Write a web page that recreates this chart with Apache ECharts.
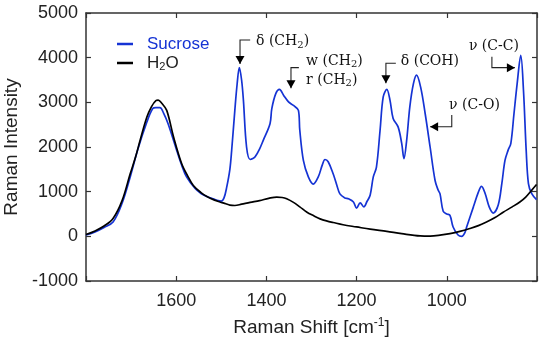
<!DOCTYPE html>
<html><head><meta charset="utf-8">
<script src="https://cdn.jsdelivr.net/npm/echarts@6/dist/echarts.min.js"></script>
<style>html,body{margin:0;padding:0;background:#fff}#c{width:550px;height:350px}</style>
</head><body><div id="c"></div>
<script>
// ---- data ----
const h2oShift = [1800,1780,1760,1740,1720,1702,1690,1680,1665,1655,1645,1640,1632,1621,1606,1588,1575,1562,1545,1532,1515,1503,1490,1481,1470,1455,1436,1415,1395,1377,1365,1355,1340,1326,1310,1295,1281,1265,1252,1230,1200,1170,1133,1100,1059,1037,1015,993,971,949,930,912,893,875,855,838,825,812,801];
const h2oIntensity = [40,120,230,400,800,1400,1780,2150,2670,2900,3040,3050,2980,2820,2230,1630,1360,1140,980,890,810,770,730,700,690,720,760,800,850,880,870,840,760,660,540,460,390,340,310,260,210,160,110,60,10,5,25,60,110,175,240,320,420,540,660,770,880,1030,1160];
const sucroseShift = [1800,1780,1760,1740,1720,1702,1685,1665,1652,1645,1636,1628,1618,1599,1588,1577,1558,1545,1532,1518,1507,1500,1494,1488,1481,1477,1470,1465,1460,1455,1451,1444,1436,1430,1425,1415,1407,1392,1388,1379,1371,1362,1351,1340,1329,1326,1318,1307,1296,1285,1276,1270,1263,1252,1244,1237,1226,1218,1207,1200,1192,1184,1177,1170,1163,1156,1148,1141,1133,1126,1119,1108,1100,1095,1089,1082,1074,1067,1058,1048,1037,1026,1019,1015,1008,1000,993,986,975,967,960,956,941,930,923,915,906,897,886,878,871,864,858,851,844,836,830,824,819,812,801];
const sucroseIntensity = [30,100,200,320,740,1330,1950,2560,2860,2880,2880,2760,2520,1930,1600,1330,1070,960,890,840,800,790,860,1100,1500,1926,2820,3400,3780,3500,3050,2000,1720,1740,1780,1960,2150,2520,2860,3200,3290,3160,3010,2930,2820,2380,1700,1330,1170,1330,1600,1720,1670,1400,1150,950,860,840,770,630,750,660,780,920,1330,1550,2370,3120,3290,3050,2640,2450,2080,1740,2150,2900,3420,3610,3340,2750,2000,1250,1030,950,560,500,470,210,30,0,80,210,660,990,1120,960,660,520,700,1180,1700,1930,2080,2750,3420,4050,3270,1930,1180,960,820];
const xTickLabels = [1600,1400,1200,1000];
const seriesNames = ['Sucrose','H2O'];

// annotation anchors in data units (shift, intensity)
const annotations = [
  {lines:[{t:'{a|δ (CH}{s|2}{a|)}', at:[1423,4358]}], path:[[1436,4396],[1458.5,4396],[1458.5,3858]], dir:'down'},
  {lines:[{t:'{a|w (CH}{s|2}{a|)}', at:[1312,3925]},{t:'{a|r (CH}{s|2}{a|)}', at:[1312,3500]}], path:[[1328,3776],[1345.5,3776],[1345.5,3314]], dir:'down'},
  {lines:[{t:'{a|δ (COH)}', at:[1102,3910]}], path:[[1113,3874],[1135,3874],[1135,3426]], dir:'down'},
  {lines:[{t:'{a|ν (C-O)}', at:[995,2940]}], path:[[989,2717],[989,2455],[1037,2455]], dir:'left'},
  {lines:[{t:'{a|ν (C-C)}', at:[951,4246]}], path:[[900,4022],[900,3776],[849,3776]], dir:'right'}
];

const BLUE = '#1533d4';
const AX = '#333333';
const TXT = '#222222';
const FONT = '"Liberation Sans", Arial, sans-serif';
const SERIF = '"DejaVu Serif", "Liberation Serif", serif';

const chart = echarts.init(document.getElementById('c'), null, {renderer:'canvas'});
const axisLine = {show:true, onZero:false, lineStyle:{color:AX, width:1.5}};
const axisTick = {show:true, inside:true, length:5, lineStyle:{color:AX, width:1.2}};

chart.setOption({
  animation:false,
  backgroundColor:'#ffffff',
  grid:{left:86, right:13, top:13, bottom:69, containLabel:false, outerBoundsMode:'none'},
  legend:{
    orient:'vertical', left:112, top:30, itemGap:1,
    icon:'rect', itemWidth:16, itemHeight:2.5,
    data:[
      {name:'Sucrose', textStyle:{color:BLUE}},
      {name:'H2O', textStyle:{color:TXT}}
    ],
    formatter: n => n === 'H2O' ? 'H{s|2}O' : n,
    textStyle:{fontFamily:FONT, fontSize:17, lineHeight:18, padding:[0,0,0,9],
      rich:{s:{fontFamily:FONT, fontSize:11, lineHeight:11, verticalAlign:'bottom', color:TXT}}}
  },
  xAxis:[
    {type:'value', min:800, max:1800, interval:200, inverse:true, position:'bottom',
     axisLine, axisTick, splitLine:{show:false},
     axisLabel:{fontFamily:FONT, fontSize:18, color:TXT, margin:11,
       formatter: v => xTickLabels.includes(v) ? String(v) : ''},
     name:'Raman Shift [cm{sup|-1}]', nameLocation:'middle', nameGap:36,
     nameTextStyle:{fontFamily:FONT, fontSize:19, color:TXT, lineHeight:22,
       rich:{sup:{fontFamily:FONT, fontSize:12, lineHeight:12, verticalAlign:'top', color:TXT}}}},
    {type:'value', min:800, max:1800, interval:200, inverse:true, position:'top',
     axisLine, axisTick, axisLabel:{show:false}, splitLine:{show:false}}
  ],
  yAxis:[
    {type:'value', min:-1000, max:5000, interval:1000, position:'left',
     axisLine, axisTick, splitLine:{show:false},
     axisLabel:{fontFamily:FONT, fontSize:18, color:TXT, margin:8, formatter: v => String(v)},
     name:'Raman Intensity', nameLocation:'middle', nameGap:58,
     nameTextStyle:{fontFamily:FONT, fontSize:19, color:TXT}},
    {type:'value', min:-1000, max:5000, interval:1000, position:'right',
     axisLine, axisTick, axisLabel:{show:false}, splitLine:{show:false}}
  ],
  series:[
    {name:'Sucrose', type:'line', xAxisIndex:0, yAxisIndex:0, showSymbol:false, smooth:0.35,
     lineStyle:{color:BLUE, width:1.7}, itemStyle:{color:BLUE},
     data: sucroseShift.map((x,i)=>[x, sucroseIntensity[i]])},
    {name:'H2O', type:'line', xAxisIndex:0, yAxisIndex:0, showSymbol:false, smooth:0.35,
     lineStyle:{color:'#000000', width:1.7}, itemStyle:{color:'#000000'},
     data: h2oShift.map((x,i)=>[x, h2oIntensity[i]])}
  ]
});

// annotations anchored to data coordinates
const px = p => chart.convertToPixel({xAxisIndex:0, yAxisIndex:0}, p);
const graphics = [];
const rich = {
  a:{fontFamily:SERIF, fontSize:14, lineHeight:17, fill:'#111', verticalAlign:'middle'},
  s:{fontFamily:SERIF, fontSize:10, lineHeight:10, fill:'#111', verticalAlign:'bottom'}
};
annotations.forEach(an => {
  const pts = an.path.map(px);
  graphics.push({type:'polyline', shape:{points:pts}, style:{stroke:'#222', lineWidth:1.1, fill:null}, z:10});
  const tip = pts[pts.length-1];
  let tri;
  if (an.dir === 'down') tri = [[tip[0], tip[1]], [tip[0]-4.5, tip[1]-8], [tip[0]+4.5, tip[1]-8]];
  else if (an.dir === 'left') tri = [[tip[0], tip[1]], [tip[0]+8, tip[1]-4.5], [tip[0]+8, tip[1]+4.5]];
  else tri = [[tip[0], tip[1]], [tip[0]-8, tip[1]-4.5], [tip[0]-8, tip[1]+4.5]];
  graphics.push({type:'polygon', shape:{points:tri}, style:{fill:'#000'}, z:11});
  an.lines.forEach(l => {
    const p = px(l.at);
    graphics.push({type:'text', x:p[0], y:p[1], z:12,
      style:{text:l.t, rich, align:'left', verticalAlign:'middle', fill:'#111'}});
  });
});
chart.setOption({graphic:graphics});
</script></body></html>
